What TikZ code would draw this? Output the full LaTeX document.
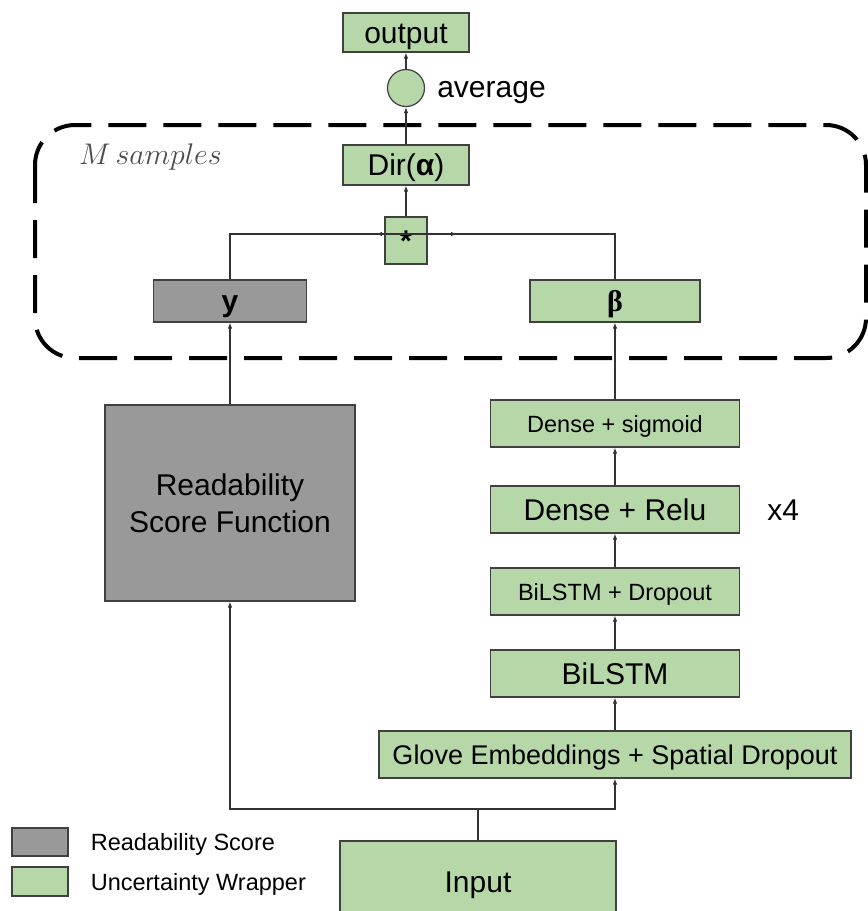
\documentclass[tikz,border=0pt]{standalone}
\usepackage{amsmath}
\usepackage{graphicx}
\usepackage{fontspec}
\setmainfont{Liberation Sans}
\newfontfamily\serifbeta{Liberation Serif}
\usepackage{xcolor}
\definecolor{wrapgreen}{HTML}{B6D7A8}
\definecolor{scoregray}{HTML}{999999}
\usetikzlibrary{math,positioning,arrows.meta}

\begin{document}
\begin{tikzpicture}[x=1pt,y=-1pt,
    >={Latex[length=6pt,width=4.5pt]},
    big/.style={font=\fontsize{30}{36}\selectfont},
    small/.style={font=\fontsize{23.5}{28}\selectfont, oneline=17pt},
    box/.style={draw=black!75, line width=1.2pt, inner sep=0pt, big},
    oneline/.style={text height=#1, text depth=0pt},
    oneline/.default=21.5pt,
    greenbox/.style={box, oneline, fill=wrapgreen},
    graybox/.style={box, oneline, fill=scoregray},
    lbl/.style={inner sep=0pt, big},
    conn/.style={draw=black!80, line width=1.1pt}]
  \useasboundingbox (0,0) rectangle (868,911);
  \tikzmath{\cx = 615; \mx = 406; \lx = 230; \w = 249; \h = 47;}
  % samples frame
  \draw[line width=4pt, dash pattern=on 38pt off 17pt, rounded corners=40pt] (35,125) rectangle (866,358);
  \node[lbl, anchor=base west, text=black!70, font=\fontsize{24.88}{30}\selectfont] (msamp) at (79,164) {\scalebox{1.2}{$M\,samples$}};
  % right column
  \node[greenbox, font=\fontsize{27}{32}\selectfont, oneline=19.5pt, minimum width=472, minimum height=\h] (glove) at (\cx,754.5) {Glove Embeddings + Spatial Dropout};
  \node[greenbox, minimum width=\w, minimum height=\h] (bilstm) at (\cx,673.5) {BiLSTM};
  \node[greenbox, small, minimum width=\w, minimum height=\h] (bidrop) at (\cx,591.5) {BiLSTM + Dropout};
  \node[greenbox, minimum width=\w, minimum height=\h] (relu) at (\cx,509.5) {Dense + Relu};
  \node[lbl, oneline, anchor=west, right=27pt of relu] (times) {x4};
  \node[greenbox, small, minimum width=\w, minimum height=\h] (sigm) at (\cx,423.5) {Dense + sigmoid};
  \node[greenbox, minimum width=170, minimum height=42] (beta) at (\cx,301) {\serifbeta\bfseries β};
  % left column
  \node[box, fill=scoregray, font=\fontsize{30}{37}\selectfont, minimum width=250, minimum height=196, align=center] (readab) at (\lx,503) {Readability\\Score Function};
  \node[graybox, minimum width=153, minimum height=42] (ybox) at (\lx,301) {\bfseries y};
  % top
  \node[greenbox, minimum width=42, minimum height=47] (star) at (\mx,240.5) {\bfseries *};
  \node[greenbox, minimum width=126, minimum height=40] (dir) at (\mx,165) {Dir(\textbf{α})};
  \node[draw=black!75, line width=1.2pt, fill=wrapgreen, circle, minimum size=37, inner sep=0pt] (avg) at (\mx,88) {};
  \node[lbl, oneline=18pt, right=12pt of avg] (avgtext) {average};
  \node[greenbox, minimum width=126, minimum height=39] (out) at (\mx,32.5) {output};
  % input
  \node[greenbox, minimum width=276, minimum height=82] (input) at (478,882) {Input};
  % legend
  \node[graybox, minimum width=56, minimum height=28] (leg1) at (40,842) {};
  \node[lbl, small, right=22pt of leg1] {Readability Score};
  \node[greenbox, minimum width=56, minimum height=29] (leg2) at (40,881.5) {};
  \node[lbl, small, right=22pt of leg2] {Uncertainty Wrapper};
  % connectors
  \coordinate (split) at (478,809);
  \coordinate (ytip) at (457,234);
  \coordinate (btip) at (376,234);
  \draw[conn] (input.north) -- (split);
  \draw[conn,->] (split) -| (readab.south);
  \draw[conn,->] (split) -| (glove.south);
  \foreach \a/\b in {glove/bilstm, bilstm/bidrop, bidrop/relu, relu/sigm, sigm/beta, readab/ybox, star/dir, dir/avg, avg/out}
    \draw[conn,->] (\a) -- (\b);
  \draw[conn,->] (ybox.north) |- (ytip);
  \draw[conn,->] (beta.north) |- (btip);
\end{tikzpicture}
\end{document}
